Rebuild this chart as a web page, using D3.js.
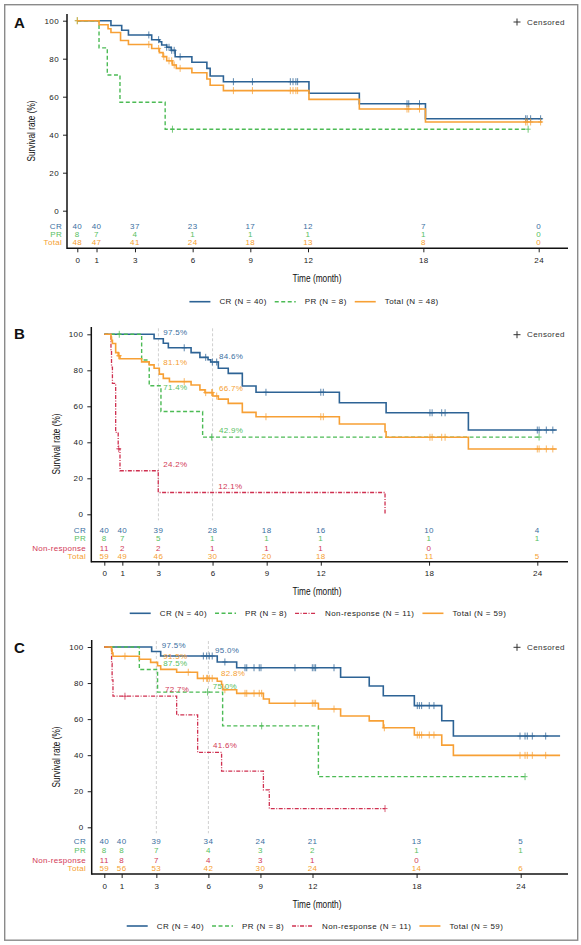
<!DOCTYPE html>
<html>
<head>
<meta charset="utf-8">
<script src="https://cdn.jsdelivr.net/npm/d3@7"></script>
<style>
  body { margin: 0; background: #fff; }
  text { font-family: "Liberation Sans", Arial, sans-serif; }
</style>
</head>
<body>
<svg id="chart" width="581" height="945"></svg>
<script>
// ---- shared ----
const riskTimes = [0, 1, 3, 6, 9, 12, 18, 24];
const tickLabels = ['0', '1', '3', '6', '9', '12', '18', '24'];
const yTicks = [0, 20, 40, 60, 80, 100];
const rowNames = { CR: 'CR', PR: 'PR', NR: 'Non-response', Total: 'Total' };

// ---- panel A ----
const aCRTime = [0, 1.75, 2.31, 2.66, 3.87, 4.27, 4.39, 4.65, 4.88, 5.09, 5.96, 6.74, 6.91, 7.6, 12.05, 14.67, 18.11];
const aCRSurv = [100, 97.5, 95.0, 92.5, 90.0, 88.9, 87.2, 86.0, 84.4, 81.0, 78.1, 74.9, 70.9, 67.9, 61.8, 56.3, 48.4];
const aCREnd = 24.19;
const aCRCens = [3.72, 4.23, 4.65, 4.77, 4.91, 5.04, 5.35, 8.12, 9.11, 11.08, 11.22, 11.37, 11.46, 17.15, 17.24, 17.8, 23.32, 23.4, 23.58, 24.1];

const aPRTime = [0, 1.13, 1.56, 2.22, 4.57];
const aPRSurv = [100, 85.7, 71.4, 57.1, 42.9];
const aPREnd = 23.45;
const aPRCens = [0, 4.95, 23.45];

const aTotTime = [0, 1.13, 1.6, 1.75, 2.25, 2.66, 3.87, 4.27, 4.46, 4.65, 4.95, 5.15, 5.96, 6.74, 6.91, 7.6, 12.05, 14.67, 18.11];
const aTotSurv = [100, 97.9, 95.8, 93.8, 89.6, 87.5, 85.4, 83.2, 81.1, 78.9, 76.7, 74.9, 72.6, 69.3, 66.0, 63.2, 58.6, 53.5, 46.7];
const aTotEnd = 24.19;
const aTotCens = [0, 3.72, 4.23, 4.5, 4.77, 4.91, 5.04, 5.35, 8.12, 9.11, 11.08, 11.22, 11.37, 11.46, 17.15, 17.24, 17.8, 23.32, 23.4, 23.58, 24.1];

const aRiskCR = [40, 40, 37, 23, 17, 12, 7, 0];
const aRiskPR = [8, 7, 4, 1, 1, 1, 1, 0];
const aRiskTot = [48, 47, 41, 24, 18, 13, 8, 0];
const aLegend = ['CR (N = 40)', 'PR (N = 8)', 'Total (N = 48)'];

// ---- panel B ----
const bCRTime = [0, 2.76, 3.27, 3.55, 4.81, 5.3, 5.75, 5.9, 6.32, 6.87, 7.65, 8.41, 13.03, 15.62, 20.18];
const bCRSurv = [100, 97.5, 95.0, 92.5, 89.8, 87.2, 85.9, 84.6, 81.1, 78.3, 71.3, 67.8, 62.0, 56.4, 46.8];
const bCREnd = 25.08;
const bCRCens = [4.43, 5.62, 5.99, 6.23, 8.96, 12.0, 12.14, 18.05, 18.17, 18.7, 18.89, 24.0, 24.1, 24.5, 24.86];

const bPRTime = [0, 2.07, 2.49, 3.14, 5.45];
const bPRSurv = [100, 85.7, 71.4, 57.1, 42.9];
const bPREnd = 24.1;
const bPRCens = [0.83, 5.95, 24.1];

const bNRTime = [0, 0.37, 0.4, 0.45, 0.63, 0.77, 0.87, 2.99, 15.56];
const bNRSurv = [100, 90.9, 81.8, 72.7, 45.5, 36.4, 24.2, 12.1, 0];
const bNREnd = 15.56;
const bNRCens = [0.8];

const bTotTime = [0, 0.37, 0.4, 0.45, 0.63, 0.77, 0.87, 2.07, 2.49, 2.76, 3.05, 3.27, 3.61, 4.81, 5.3, 5.58, 6.02, 6.32, 6.87, 7.65, 8.41, 13.03, 15.56, 15.62, 20.18];
const bTotSurv = [100, 98.3, 96.6, 94.9, 89.8, 88.1, 86.4, 84.7, 83.0, 81.1, 77.9, 75.5, 73.7, 71.8, 69.1, 67.6, 65.7, 64.0, 61.6, 56.6, 54.2, 50.2, 45.9, 42.8, 36.3];
const bTotEnd = 25.08;
const bTotCens = [0.8, 0.83, 4.43, 5.62, 5.95, 5.99, 6.23, 8.96, 12.0, 12.14, 18.05, 18.17, 18.7, 18.89, 24.0, 24.1, 24.5, 24.86];

const bRiskCR = [40, 40, 39, 28, 18, 16, 10, 4];
const bRiskPR = [8, 7, 5, 1, 1, 1, 1, 1];
const bRiskNR = [11, 2, 2, 1, 1, 1, 0];
const bRiskTot = [59, 49, 46, 30, 20, 18, 11, 5];
const bLegend = ['CR (N = 40)', 'PR (N = 8)', 'Non-response (N = 11)', 'Total (N = 59)'];

const bLabelTime = [3, 6, 3, 3, 6, 6, 3, 6];
const bLabelValue = [97.5, 84.6, 81.1, 71.4, 66.7, 42.9, 24.2, 12.1];
const bLabelGroup = ['CR', 'CR', 'Total', 'PR', 'Total', 'PR', 'NR', 'NR'];

// ---- panel C ----
const cCRTime = [0, 2.73, 3.25, 6.51, 7.63, 13.62, 15.27, 16.08, 17.87, 19.45, 20.12];
const cCRSurv = [100, 97.5, 95.0, 91.7, 88.5, 83.2, 78.4, 73.0, 67.5, 59.1, 50.6];
const cCREnd = 26.27;
const cCRCens = [5.71, 5.9, 6.05, 6.22, 6.95, 8.11, 8.21, 8.63, 8.93, 9.03, 10.99, 11.99, 12.09, 12.18, 13.24, 18.04, 18.16, 18.29, 18.73, 19.0, 23.96, 24.25, 24.38, 24.67, 25.44];

const cPRTime = [0, 2.02, 3.07, 6.82, 12.34];
const cPRSurv = [100, 87.5, 75.0, 56.25, 28.1];
const cPREnd = 24.25;
const cPRCens = [5.95, 9.07, 24.25];

const cNRTime = [0, 0.42, 0.45, 0.5, 4.17, 5.38, 6.76, 9.17, 9.51];
const cNRSurv = [100, 90.9, 81.8, 72.7, 62.3, 41.6, 31.2, 20.8, 10.4];
const cNREnd = 16.18;
const cNRCens = [1.19, 16.18];

const cTotTime = [0, 0.42, 0.45, 0.5, 2.02, 2.67, 3.07, 3.25, 4.17, 5.37, 6.51, 6.76, 6.82, 7.63, 9.17, 9.51, 12.34, 13.62, 15.27, 16.08, 17.87, 19.45, 20.12];
const cTotSurv = [100, 98.3, 96.6, 94.9, 93.2, 91.5, 89.6, 87.6, 86.0, 82.6, 81.0, 79.2, 76.3, 74.3, 71.2, 68.8, 65.6, 61.7, 59.0, 55.2, 51.2, 45.6, 39.9];
const cTotEnd = 26.27;
const cTotCens = [1.19, 4.84, 5.71, 5.9, 5.95, 6.05, 6.22, 6.95, 8.11, 8.21, 8.63, 8.93, 9.07, 10.99, 11.99, 12.09, 12.18, 13.24, 16.14, 18.04, 18.16, 18.29, 18.73, 19.0, 23.96, 24.25, 24.38, 24.67, 25.44];

const cRiskCR = [40, 40, 39, 34, 24, 21, 13, 5];
const cRiskPR = [8, 8, 7, 4, 3, 2, 1, 1];
const cRiskNR = [11, 8, 7, 4, 3, 1, 0];
const cRiskTot = [59, 56, 53, 42, 30, 24, 14, 6];
const cLegend = ['CR (N = 40)', 'PR (N = 8)', 'Non-response (N = 11)', 'Total (N = 59)'];

const cLabelTime = [3, 6, 3, 3, 6, 3, 6, 6];
const cLabelValue = [97.5, 95.0, 91.5, 87.5, 82.8, 72.7, 75.0, 41.6];
const cLabelGroup = ['CR', 'CR', 'Total', 'PR', 'Total', 'NR', 'PR', 'NR'];

// ---- styles ----
const colors = { CR: '#2d6395', PR: '#4cbb55', NR: '#cf3050', Total: '#f7a035' };
const textColors = { CR: '#3a6f9f', PR: '#58c062', NR: '#d23a57', Total: '#f5a030' };
const dashes = { CR: null, PR: '4,2.5', NR: '4,1.5,1,1.5', Total: null };
const widths = { CR: 1.6, PR: 1.4, NR: 1.3, Total: 1.6 };
const fontSize = '8px';
// label offsets [dx, dy] in px, same order as label arrays
const bLabelOffset = [[4.8, -6], [6.5, -6], [4.8, -5.8], [4.8, 1.5], [6.5, -6], [6.5, -7], [4.8, -5.8], [5.8, -6.5]];
const cLabelOffset = [[5.3, -6], [6.6, -6], [7, -6.3], [7, -6.2], [12.6, -4.7], [8.6, -7], [4.3, -5.4], [4.6, -6.3]];

const svg = d3.select('#chart');
svg.append('rect').attr('width', 581).attr('height', 945).attr('fill', '#fff');
svg.append('rect')
  .attr('x', 4.7).attr('y', 4.7).attr('width', 573).attr('height', 935.5)
  .attr('fill', 'none').attr('stroke', '#8a8a8a').attr('stroke-width', 1.4);

function survAt(s, t) {
  const i = d3.bisectRight(s.time, t) - 1;
  return s.surv[Math.max(0, i)];
}

function drawPanel(p) {
  const g = svg.append('g');
  const x = d3.scaleLinear().domain([0, 24]).range(p.xRange);
  const y = d3.scaleLinear().domain([0, 100]).range(p.yRange);

  // panel letter
  g.append('text').attr('x', 14).attr('y', p.letterY)
    .style('font-weight', 'bold').style('font-size', '15px').attr('fill', '#111')
    .text(p.letter);

  // reference lines at 3 and 6 months
  (p.refTimes || []).forEach(t => {
    g.append('line')
      .attr('x1', x(t)).attr('x2', x(t))
      .attr('y1', y(100) - 6).attr('y2', y(0) + 6)
      .attr('stroke', '#c4c4c4').attr('stroke-width', 0.8).attr('stroke-dasharray', '3,2');
  });

  // y axis
  const yAxis = g.append('g').attr('transform', `translate(${p.axisX},0)`)
    .call(d3.axisLeft(y).tickValues(yTicks).tickSize(4).tickPadding(4));
  yAxis.select('.domain').remove();
  yAxis.selectAll('line').attr('stroke', '#222');
  yAxis.selectAll('text').style('font-size', fontSize).style('letter-spacing', '0.4px')
    .style('font-family', '"Liberation Sans", Arial, sans-serif').attr('fill', '#222');
  g.append('line').attr('x1', p.axisX).attr('x2', p.axisX)
    .attr('y1', p.axisTop).attr('y2', p.axisY + 0.75)
    .attr('stroke', '#111').attr('stroke-width', 1.5);

  // x axis
  const xAxis = g.append('g').attr('transform', `translate(0,${p.axisY})`)
    .call(d3.axisBottom(x).tickValues(riskTimes).tickFormat((d, i) => tickLabels[i]).tickSize(4).tickPadding(5));
  xAxis.select('.domain').remove();
  xAxis.selectAll('line').attr('stroke', '#222');
  xAxis.selectAll('text').style('font-size', fontSize).style('letter-spacing', '0.4px')
    .style('font-family', '"Liberation Sans", Arial, sans-serif').attr('fill', '#222');
  g.append('line').attr('x1', p.axisX).attr('x2', 568)
    .attr('y1', p.axisY).attr('y2', p.axisY)
    .attr('stroke', '#111').attr('stroke-width', 1.5);

  // axis titles
  g.append('text').attr('x', 317).attr('y', p.timeY)
    .attr('text-anchor', 'middle').attr('dominant-baseline', 'central')
    .attr('textLength', 49).attr('lengthAdjust', 'spacingAndGlyphs')
    .style('font-family', '"Liberation Sans Narrow", "Liberation Sans", sans-serif')
    .style('font-size', '10.5px').attr('fill', '#111').text('Time (month)');
  g.append('text')
    .attr('transform', `translate(${p.yTitleX},${p.yTitleY}) rotate(-90)`)
    .attr('text-anchor', 'middle').attr('dominant-baseline', 'central')
    .attr('textLength', 61).attr('lengthAdjust', 'spacingAndGlyphs')
    .style('font-family', '"Liberation Sans Narrow", "Liberation Sans", sans-serif')
    .style('font-size', '10.5px').attr('fill', '#111').text('Survival rate (%)');

  // censored key
  g.append('path')
    .attr('d', `M${517 - 3.5},${p.censY}H${517 + 3.5}M517,${p.censY - 3.5}V${p.censY + 3.5}`)
    .attr('stroke', '#333').attr('stroke-width', 1);
  g.append('text').attr('x', 527).attr('y', p.censY).attr('dominant-baseline', 'central')
    .style('font-size', fontSize).style('letter-spacing', '0.4px').attr('fill', '#333').text('Censored');

  // curves
  const line = d3.line().x(d => x(d[0])).y(d => y(d[1])).curve(d3.curveStepAfter);
  p.series.forEach(s => {
    const pts = s.time.map((t, i) => [t, s.surv[i]]);
    if (s.end > s.time[s.time.length - 1]) pts.push([s.end, s.surv[s.surv.length - 1]]);
    g.append('path').datum(pts)
      .attr('d', line)
      .attr('fill', 'none')
      .attr('stroke', colors[s.key])
      .attr('stroke-width', widths[s.key])
      .attr('stroke-dasharray', dashes[s.key])
      .attr('stroke-linejoin', 'miter');
    g.selectAll(null).data(s.cens).enter().append('path')
      .attr('d', c => {
        const cx = x(c), cy = y(survAt(s, c));
        return `M${cx - 2.5},${cy}H${cx + 2.5}M${cx},${cy - 3.5}V${cy + 3.5}`;
      })
      .attr('stroke', colors[s.key]).attr('stroke-width', 0.9).attr('opacity', 0.85);
  });

  // percentage labels
  if (p.labels) {
    p.labels.time.forEach((t, i) => {
      const v = p.labels.value[i];
      g.append('text')
        .attr('x', x(t) + p.labels.offset[i][0])
        .attr('y', y(v) + p.labels.offset[i][1])
        .attr('dominant-baseline', 'central')
        .style('font-size', fontSize).style('letter-spacing', '0.3px')
        .attr('fill', textColors[p.labels.group[i]])
        .text(v.toFixed(1) + '%');
    });
  }

  // number at risk table
  p.series.forEach((s, r) => {
    const ry = p.rowY[r];
    g.append('text').attr('x', p.rowLabelX).attr('y', ry)
      .attr('text-anchor', 'end').attr('dominant-baseline', 'central')
      .style('font-size', fontSize).style('letter-spacing', '0.3px')
      .attr('fill', textColors[s.key]).text(rowNames[s.key]);
    g.selectAll(null).data(s.risk).enter().append('text')
      .attr('x', (d, i) => x(riskTimes[i]))
      .attr('y', ry)
      .attr('text-anchor', 'middle').attr('dominant-baseline', 'central')
      .style('font-size', fontSize).style('letter-spacing', '0.4px')
      .attr('fill', textColors[s.key])
      .text(d => d);
  });

  // legend, centred
  const lg = g.append('g');
  let cx = 0;
  p.series.forEach((s, i) => {
    lg.append('line').attr('x1', cx).attr('x2', cx + 21).attr('y1', 0).attr('y2', 0)
      .attr('stroke', colors[s.key]).attr('stroke-width', widths[s.key])
      .attr('stroke-dasharray', dashes[s.key]);
    const t = lg.append('text').attr('x', cx + 30).attr('y', 0)
      .attr('dominant-baseline', 'central')
      .style('font-size', fontSize).style('letter-spacing', '0.4px').attr('fill', '#222')
      .text(p.legend[i]);
    cx += 30 + t.node().getComputedTextLength() + 8;
  });
  lg.attr('transform', `translate(${p.legendX - (cx - 8) / 2},${p.legendY})`);
}

drawPanel({
  letter: 'A', letterY: 28.3,
  xRange: [77.3, 538.7], yRange: [210.7, 20.7],
  axisX: 67, axisTop: 14, axisY: 248.3,
  rowLabelX: 62, rowY: [226, 234.3, 242.7],
  timeY: 278, yTitleX: 31, yTitleY: 131,
  legendX: 314, legendY: 301.7, censY: 22,
  legend: aLegend,
  series: [
    { key: 'CR', time: aCRTime, surv: aCRSurv, end: aCREnd, cens: aCRCens, risk: aRiskCR },
    { key: 'PR', time: aPRTime, surv: aPRSurv, end: aPREnd, cens: aPRCens, risk: aRiskPR },
    { key: 'Total', time: aTotTime, surv: aTotSurv, end: aTotEnd, cens: aTotCens, risk: aRiskTot }
  ]
});

drawPanel({
  letter: 'B', letterY: 339.3,
  xRange: [104.3, 537.3], yRange: [514.3, 334.3],
  axisX: 91.3, axisTop: 327, axisY: 561.7,
  rowLabelX: 86, rowY: [530, 538.3, 548.3, 556.3],
  timeY: 591, yTitleX: 56, yTitleY: 444,
  legendX: 318, legendY: 613.3, censY: 334.7,
  refTimes: [3, 6],
  legend: bLegend,
  labels: { time: bLabelTime, value: bLabelValue, group: bLabelGroup, offset: bLabelOffset },
  series: [
    { key: 'CR', time: bCRTime, surv: bCRSurv, end: bCREnd, cens: bCRCens, risk: bRiskCR },
    { key: 'PR', time: bPRTime, surv: bPRSurv, end: bPREnd, cens: bPRCens, risk: bRiskPR },
    { key: 'NR', time: bNRTime, surv: bNRSurv, end: bNREnd, cens: bNRCens, risk: bRiskNR },
    { key: 'Total', time: bTotTime, surv: bTotSurv, end: bTotEnd, cens: bTotCens, risk: bRiskTot }
  ]
});

drawPanel({
  letter: 'C', letterY: 653.3,
  xRange: [104.3, 520.7], yRange: [827.3, 647],
  axisX: 91.7, axisTop: 640, axisY: 874,
  rowLabelX: 86, rowY: [841.7, 850.7, 860, 868.7],
  timeY: 904, yTitleX: 56, yTitleY: 757,
  legendX: 315, legendY: 926, censY: 647.3,
  refTimes: [3, 6],
  legend: cLegend,
  labels: { time: cLabelTime, value: cLabelValue, group: cLabelGroup, offset: cLabelOffset },
  series: [
    { key: 'CR', time: cCRTime, surv: cCRSurv, end: cCREnd, cens: cCRCens, risk: cRiskCR },
    { key: 'PR', time: cPRTime, surv: cPRSurv, end: cPREnd, cens: cPRCens, risk: cRiskPR },
    { key: 'NR', time: cNRTime, surv: cNRSurv, end: cNREnd, cens: cNRCens, risk: cRiskNR },
    { key: 'Total', time: cTotTime, surv: cTotSurv, end: cTotEnd, cens: cTotCens, risk: cRiskTot }
  ]
});
</script>
</body>
</html>
